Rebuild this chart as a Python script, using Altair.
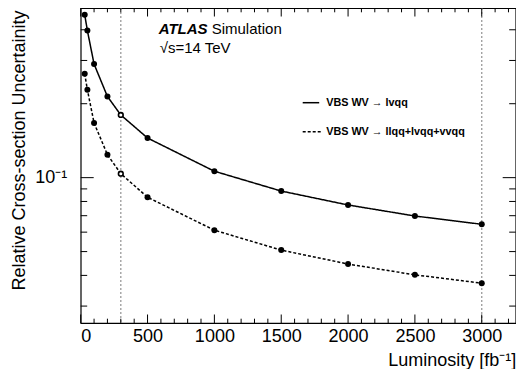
import altair as alt
import pandas as pd

# ---- data ----
lumi = [30, 50, 100, 200, 300, 500, 1000, 1500, 2000, 2500, 3000]
unc_lvqq = [0.461, 0.397, 0.290, 0.214, 0.180, 0.145, 0.1062, 0.0882, 0.0774, 0.0698, 0.0646]
unc_all = [0.265, 0.228, 0.167, 0.124, 0.1038, 0.0832, 0.0611, 0.0507, 0.0445, 0.0402, 0.0372]
series_names = ["VBS WV \u2192 lvqq", "VBS WV \u2192 llqq+lvqq+vvqq"]
open_lumi = [300]
ref_lumi = [300, 3000]

x_major = [0, 500, 1000, 1500, 2000, 2500, 3000]
x_minor = [100, 200, 300, 400, 600, 700, 800, 900, 1100, 1200, 1300, 1400,
           1600, 1700, 1800, 1900, 2100, 2200, 2300, 2400, 2600, 2700, 2800,
           2900, 3100, 3200]
y_major = [0.1]
y_minor = [0.03, 0.04, 0.05, 0.06, 0.07, 0.08, 0.09, 0.2, 0.3, 0.4]

x_title = "Luminosity [fb\u207b\u00b9]"
y_title = "Relative Cross-section Uncertainity"
y_label = "10\u207b\u00b9"

W, H = 435, 315
FONT = "Liberation Sans"

df = pd.DataFrame({
    "lumi": lumi * 2,
    "unc": unc_lvqq + unc_all,
    "series": [series_names[0]] * len(lumi) + [series_names[1]] * len(lumi),
})

xs = alt.Scale(domain=[0, 3254], nice=False, zero=False)
ys = alt.Scale(type="log", domain=[0.0256, 0.4906], nice=False)

xaxis = alt.Axis(values=x_major, format="d", title=x_title, grid=False, ticks=False,
                 domain=False, tickSize=0, labelPadding=4, labelFontSize=18, labelFont=FONT,
                 labelColor="black",
                 titleX=W, titleY=42.5, titleAlign="right", titleBaseline="alphabetic",
                 titleFontSize=18, titleFont=FONT, titleFontWeight="normal",
                 titleColor="black")
yaxis = alt.Axis(values=y_major, labelExpr="'" + y_label + "'", title=y_title, grid=False,
                 ticks=False, domain=False, tickSize=0, labelPadding=14,
                 labelFontSize=18, labelFont=FONT, labelColor="black",
                 titleAngle=270, titleX=-56, titleY=2, titleAlign="right",
                 titleBaseline="alphabetic", titleFontSize=18, titleFont=FONT,
                 titleFontWeight="normal", titleColor="black")


def X():
    return alt.X("lumi:Q", scale=xs, axis=xaxis)


def Y():
    return alt.Y("unc:Q", scale=ys, axis=yaxis)


refs = alt.Chart(pd.DataFrame({"lumi": ref_lumi})).mark_rule(
    color="#9a9a9a", strokeDash=[2, 2], strokeWidth=1.3).encode(x=X())

lines = alt.Chart(df).mark_line(color="black", strokeWidth=1.5).encode(
    x=X(), y=Y(),
    strokeDash=alt.StrokeDash("series:N", scale=alt.Scale(domain=series_names,
                                                          range=[[1, 0], [3, 2]]),
                              legend=None),
    detail="series:N",
)

pts = alt.Chart(df).transform_filter(
    ~alt.FieldOneOfPredicate(field="lumi", oneOf=open_lumi)
).mark_circle(size=36, color="black", opacity=1).encode(x=X(), y=Y())

open_pts = alt.Chart(df).transform_filter(
    alt.FieldOneOfPredicate(field="lumi", oneOf=open_lumi)
).mark_point(shape="circle", filled=True, fill="white", stroke="black",
             strokeWidth=1.6, size=22, opacity=1).encode(x=X(), y=Y())

# inward ticks (ROOT style)
xmaj = pd.DataFrame({"lumi": x_major})
xmin = pd.DataFrame({"lumi": x_minor})
ymaj = pd.DataFrame({"unc": y_major})
ymin = pd.DataFrame({"unc": y_minor})
tick_layers = []
for d, ln in [(xmaj, 8.5), (xmin, 4.3)]:
    tick_layers.append(alt.Chart(d).mark_rule(color="black", strokeWidth=1).encode(
        x=X(), y=alt.value(H), y2=alt.value(H - ln)))
    tick_layers.append(alt.Chart(d).mark_rule(color="black", strokeWidth=1).encode(
        x=X(), y=alt.value(0), y2=alt.value(ln)))
for d, ln in [(ymaj, 13), (ymin, 6.5)]:
    tick_layers.append(alt.Chart(d).mark_rule(color="black", strokeWidth=1).encode(
        y=Y(), x=alt.value(0), x2=alt.value(ln)))
    tick_layers.append(alt.Chart(d).mark_rule(color="black", strokeWidth=1).encode(
        y=Y(), x=alt.value(W), x2=alt.value(W - ln)))

dummy = pd.DataFrame({"a": [0]})
atlas = alt.Chart(dummy).mark_text(text="ATLAS", font=FONT, fontSize=15, fontWeight="bold",
                                   fontStyle="italic", align="left", baseline="alphabetic",
                                   color="black").encode(x=alt.value(78), y=alt.value(26))
simu = alt.Chart(dummy).mark_text(text="Simulation", font=FONT, fontSize=15, align="left",
                                  baseline="alphabetic", color="black").encode(
    x=alt.value(131), y=alt.value(26))
energy = alt.Chart(dummy).mark_text(text="\u221as=14 TeV", font=FONT, fontSize=15,
                                    align="left", baseline="alphabetic",
                                    color="black").encode(x=alt.value(79), y=alt.value(45))

leg1_line = alt.Chart(dummy).mark_rule(color="black", strokeWidth=1.5).encode(
    x=alt.value(222), x2=alt.value(238.5), y=alt.value(94.7))
leg2_line = alt.Chart(dummy).mark_rule(color="black", strokeWidth=1.5, strokeDash=[3, 2]).encode(
    x=alt.value(222), x2=alt.value(240.5), y=alt.value(123.7))
leg1_txt = alt.Chart(dummy).mark_text(text=series_names[0], font=FONT, fontSize=10.8,
                                      fontWeight="bold", align="left", baseline="middle",
                                      color="black").encode(x=alt.value(245.5), y=alt.value(94.5))
leg2_txt = alt.Chart(dummy).mark_text(text=series_names[1], font=FONT, fontSize=10.8,
                                      fontWeight="bold", align="left", baseline="middle",
                                      color="black").encode(x=alt.value(245.5), y=alt.value(123.5))

chart = alt.layer(
    refs, lines, pts, open_pts, *tick_layers,
    atlas, simu, energy, leg1_line, leg2_line, leg1_txt, leg2_txt,
).properties(
    width=W, height=H,
    autosize=alt.AutoSizeParams(type="none"),
    padding={"left": 72.7, "top": 0, "right": 0.3, "bottom": 46},
    background="white",
).configure_view(stroke="black", strokeWidth=1.2)

chart.save("out.html", embed_options={"renderer": "svg", "actions": False})
